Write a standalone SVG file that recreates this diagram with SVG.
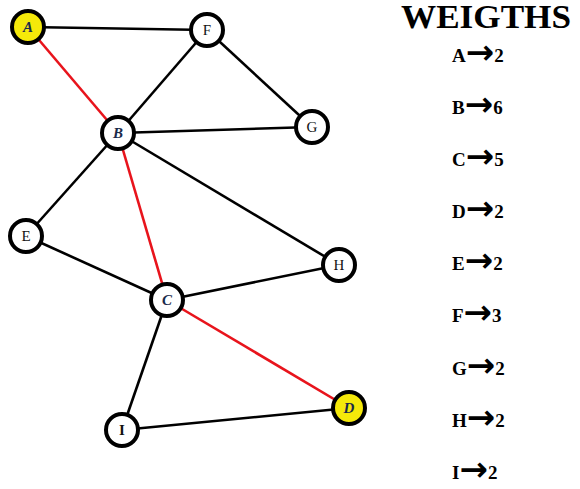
<svg xmlns="http://www.w3.org/2000/svg" width="580" height="489" viewBox="0 0 580 489">
<style>
.e{stroke:#000;stroke-width:2.6;fill:none}
.r{stroke:#e8141c;stroke-width:2.6;fill:none}
.n{fill:#fff;stroke:#000;stroke-width:4}
.y{fill:#f5e90a}
.l{font-family:"Liberation Serif",serif;font-size:15px;text-anchor:middle;fill:#111}
.i{font-style:italic;font-weight:bold;fill:#1a2a4a}
.b{font-weight:bold}
.w{font-family:"Liberation Serif",serif;font-weight:bold;font-size:19px;fill:#000}
.ar{font-family:"DejaVu Sans",sans-serif;font-size:34px;font-weight:bold}
.t{font-family:"Liberation Serif",serif;font-weight:bold;font-size:33px;fill:#000}
</style>
<rect width="580" height="489" fill="#fff"/>
<g id="connectors">
<line class="e" x1="28" y1="27" x2="207" y2="30"/>
<line class="r" x1="28" y1="27" x2="118" y2="133"/>
<line class="e" x1="207" y1="30" x2="118" y2="133"/>
<line class="e" x1="207" y1="30" x2="312" y2="127"/>
<line class="e" x1="118" y1="133" x2="312" y2="127"/>
<line class="e" x1="118" y1="133" x2="26" y2="236"/>
<line class="r" x1="118" y1="133" x2="167" y2="300"/>
<line class="e" x1="118" y1="133" x2="339" y2="265"/>
<line class="e" x1="26" y1="236" x2="167" y2="300"/>
<line class="e" x1="167" y1="300" x2="339" y2="265"/>
<line class="e" x1="167" y1="300" x2="122" y2="430"/>
<line class="r" x1="167" y1="300" x2="349" y2="408"/>
<line class="e" x1="122" y1="430" x2="349" y2="408"/>
</g>
<g id="node-A"><circle class="n y" cx="28" cy="27" r="16"/><text class="l i" x="28" y="32">A</text></g>
<g id="node-F"><circle class="n" cx="207" cy="30" r="16"/><text class="l" x="207" y="35">F</text></g>
<g id="node-B"><circle class="n" cx="118" cy="133" r="16"/><text class="l i" x="118" y="138">B</text></g>
<g id="node-G"><circle class="n" cx="312" cy="127" r="16"/><text class="l" x="312" y="132">G</text></g>
<g id="node-E"><circle class="n" cx="26" cy="236" r="16"/><text class="l" x="26" y="241">E</text></g>
<g id="node-H"><circle class="n" cx="339" cy="265" r="16"/><text class="l" x="339" y="270">H</text></g>
<g id="node-C"><circle class="n" cx="167" cy="300" r="16"/><text class="l i" x="167" y="305">C</text></g>
<g id="node-I"><circle class="n" cx="122" cy="430" r="16"/><text class="l b" x="122" y="435">I</text></g>
<g id="node-D"><circle class="n y" cx="349" cy="408" r="16"/><text class="l i" x="349" y="413">D</text></g>
<g id="weights">
<text class="t" x="401" y="28" textLength="170" lengthAdjust="spacingAndGlyphs">WEIGTHS</text>
<text class="w" x="452" y="62">A<tspan class="ar" dy="2">→</tspan><tspan dy="-2">2</tspan></text>
<text class="w" x="452" y="114">B<tspan class="ar" dy="2">→</tspan><tspan dy="-2">6</tspan></text>
<text class="w" x="452" y="166">C<tspan class="ar" dy="2">→</tspan><tspan dy="-2">5</tspan></text>
<text class="w" x="452" y="218">D<tspan class="ar" dy="2">→</tspan><tspan dy="-2">2</tspan></text>
<text class="w" x="452" y="270">E<tspan class="ar" dy="2">→</tspan><tspan dy="-2">2</tspan></text>
<text class="w" x="452" y="322">F<tspan class="ar" dy="2">→</tspan><tspan dy="-2">3</tspan></text>
<text class="w" x="452" y="375">G<tspan class="ar" dy="2">→</tspan><tspan dy="-2">2</tspan></text>
<text class="w" x="452" y="427">H<tspan class="ar" dy="2">→</tspan><tspan dy="-2">2</tspan></text>
<text class="w" x="452" y="479">I<tspan class="ar" dy="2">→</tspan><tspan dy="-2">2</tspan></text>
</g>
</svg>
